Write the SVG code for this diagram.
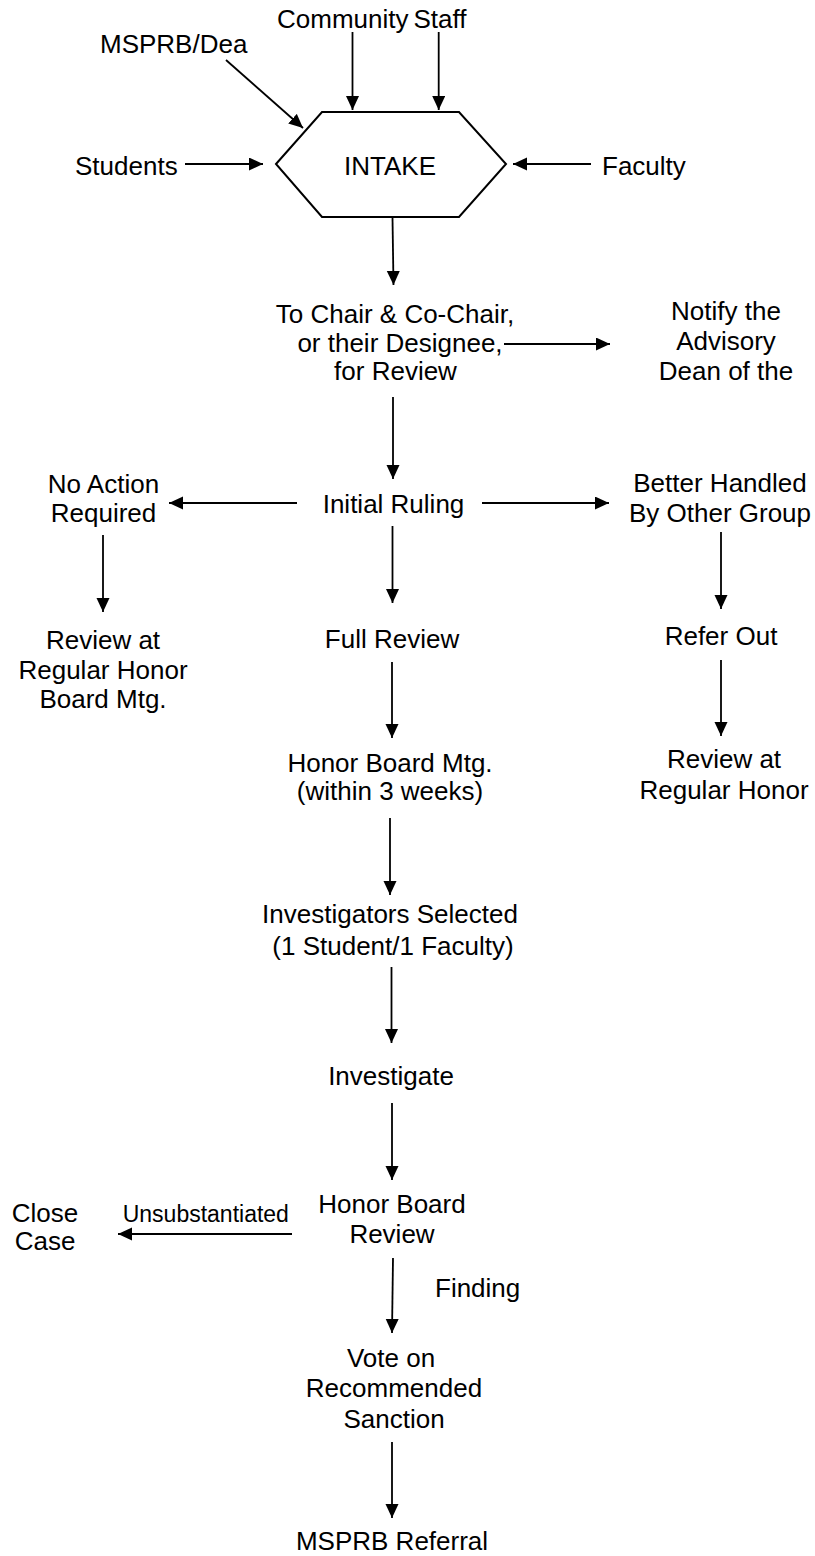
<svg xmlns="http://www.w3.org/2000/svg" width="815" height="1556" viewBox="0 0 815 1556">
<style>
text{font-family:"Liberation Sans",Arial,sans-serif;font-size:26px;fill:#000}
.m{text-anchor:middle}
.s{font-size:23px}
.c line{stroke:#000;stroke-width:1.8;marker-end:url(#ah)}
.hex{fill:#fff;stroke:#000;stroke-width:2}
</style>
<defs>
<marker id="ah" markerUnits="userSpaceOnUse" markerWidth="15" markerHeight="14" refX="14" refY="6.5" orient="auto">
<path d="M0,0 L14,6.5 L0,13 z" fill="#000"/>
</marker>
</defs>
<rect width="815" height="1556" fill="#fff"/>
<g id="connectors" class="c">
<line x1="226" y1="60" x2="303" y2="128"/>
<line x1="352.5" y1="32" x2="352.5" y2="110"/>
<line x1="438.7" y1="32" x2="438.7" y2="110"/>
<line x1="185" y1="164" x2="263" y2="164"/>
<line x1="591" y1="164" x2="513" y2="164"/>
<line x1="392.5" y1="218" x2="393.5" y2="285"/>
<line x1="504" y1="344" x2="610" y2="344"/>
<line x1="393" y1="397" x2="393" y2="479"/>
<line x1="297" y1="503" x2="169" y2="503"/>
<line x1="482" y1="503" x2="609" y2="503"/>
<line x1="103" y1="535" x2="103" y2="612"/>
<line x1="392.5" y1="526" x2="392.5" y2="603"/>
<line x1="721" y1="532" x2="721" y2="609"/>
<line x1="392" y1="662" x2="392" y2="738"/>
<line x1="721" y1="660" x2="721" y2="736"/>
<line x1="390" y1="818" x2="390" y2="895"/>
<line x1="391.5" y1="967" x2="391.5" y2="1043"/>
<line x1="392" y1="1103" x2="392" y2="1180"/>
<line x1="292" y1="1234" x2="118" y2="1234"/>
<line x1="393" y1="1258" x2="392" y2="1333"/>
<line x1="392" y1="1442" x2="392" y2="1518"/>
</g>
<g id="community"><text x="277" y="28">Community</text></g>
<g id="staff"><text x="413.5" y="28">Staff</text></g>
<g id="msprb-dean"><text x="100" y="53">MSPRB/Dea</text></g>
<g id="students"><text x="75" y="175">Students</text></g>
<g id="faculty"><text x="602" y="175">Faculty</text></g>
<g id="intake">
<polygon class="hex" points="276,164 322,112 459,112 506,164 459,217 322,217"/>
<text class="m" x="390" y="175">INTAKE</text>
</g>
<g id="chair-review">
<text class="m" x="395" y="323">To Chair &amp; Co-Chair,</text>
<text class="m" x="400" y="352">or their Designee,</text>
<text class="m" x="395.5" y="380">for Review</text>
</g>
<g id="notify-dean">
<text class="m" x="726" y="320">Notify the</text>
<text class="m" x="726" y="350">Advisory</text>
<text class="m" x="726" y="380">Dean of the</text>
</g>
<g id="initial-ruling"><text class="m" x="393.5" y="513">Initial Ruling</text></g>
<g id="no-action">
<text class="m" x="103.5" y="493">No Action</text>
<text class="m" x="103.5" y="522">Required</text>
</g>
<g id="better-handled">
<text class="m" x="720" y="492">Better Handled</text>
<text class="m" x="720" y="522">By Other Group</text>
</g>
<g id="review-regular-left">
<text class="m" x="103" y="649">Review at</text>
<text class="m" x="103" y="679">Regular Honor</text>
<text class="m" x="103" y="708">Board Mtg.</text>
</g>
<g id="full-review"><text class="m" x="392" y="648">Full Review</text></g>
<g id="refer-out"><text class="m" x="721" y="645">Refer Out</text></g>
<g id="honor-board-mtg">
<text class="m" x="390" y="772">Honor Board Mtg.</text>
<text class="m" x="390" y="800">(within 3 weeks)</text>
</g>
<g id="review-regular-right">
<text class="m" x="724" y="768">Review at</text>
<text class="m" x="724" y="799">Regular Honor</text>
</g>
<g id="investigators">
<text class="m" x="390" y="923">Investigators Selected</text>
<text class="m" x="393" y="955">(1 Student/1 Faculty)</text>
</g>
<g id="investigate"><text class="m" x="391" y="1085">Investigate</text></g>
<g id="honor-board-review">
<text class="m" x="392" y="1213">Honor Board</text>
<text class="m" x="392" y="1243">Review</text>
</g>
<g id="close-case">
<text class="m" x="45" y="1222">Close</text>
<text class="m" x="45" y="1250">Case</text>
</g>
<g id="label-unsubstantiated"><text class="s" x="122.7" y="1222">Unsubstantiated</text></g>
<g id="label-finding"><text x="435" y="1297">Finding</text></g>
<g id="vote-sanction">
<text class="m" x="391" y="1367">Vote on</text>
<text class="m" x="394" y="1397">Recommended</text>
<text class="m" x="394" y="1428">Sanction</text>
</g>
<g id="msprb-referral"><text class="m" x="392" y="1550">MSPRB Referral</text></g>
</svg>
